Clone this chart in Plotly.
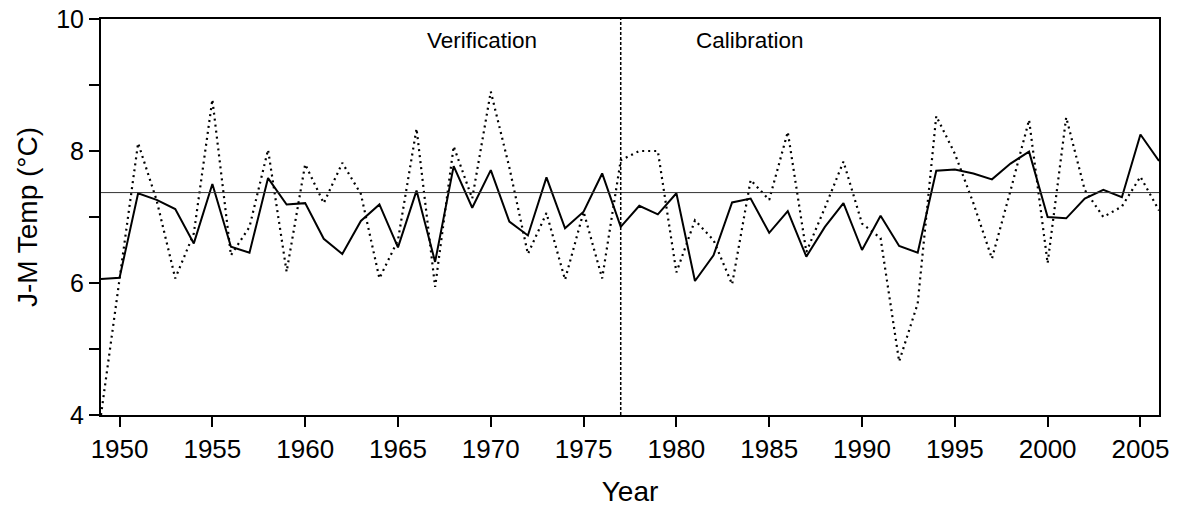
import plotly.graph_objects as go

# Jan-May temperature, 1949-2006
years = list(range(1949, 2007))

observed = [
    6.06, 6.08, 7.36, 7.26, 7.12, 6.60, 7.50, 6.55, 6.46, 7.59,
    7.19, 7.21, 6.67, 6.44, 6.94, 7.19, 6.54, 7.40, 6.32, 7.77,
    7.14, 7.71, 6.93, 6.72, 7.60, 6.83, 7.08, 7.66, 6.85, 7.17,
    7.04, 7.36, 6.03, 6.42, 7.22, 7.28, 6.76, 7.09, 6.40, 6.85,
    7.21, 6.50, 7.02, 6.56, 6.46, 7.70, 7.72, 7.66, 7.57, 7.81,
    7.99, 7.00, 6.98, 7.28, 7.41, 7.30, 8.25, 7.85,
]

reconstructed = [
    4.00, 6.05, 8.12, 7.25, 6.07, 6.75, 8.78, 6.42, 6.85, 8.02,
    6.17, 7.80, 7.21, 7.82, 7.35, 6.07, 6.65, 8.34, 5.94, 8.07,
    7.28, 8.90, 7.75, 6.44, 7.06, 6.05, 7.08, 6.07, 7.86, 8.00,
    8.00, 6.16, 6.95, 6.65, 5.98, 7.56, 7.26, 8.29, 6.47, 7.14,
    7.84, 6.90, 6.68, 4.81, 5.69, 8.53, 7.96, 7.21, 6.37, 7.40,
    8.47, 6.30, 8.51, 7.41, 7.00, 7.16, 7.61, 7.10,
]

mean_temp = 7.37
split_year = 1977

x_ticks = list(range(1950, 2006, 5))
y_ticks = [4, 5, 6, 7, 8, 9, 10]
y_labels = ["4", "", "6", "", "8", "", "10"]

FONT = "Liberation Sans, Arial, sans-serif"

fig = go.Figure()

fig.add_trace(go.Scatter(
    x=years, y=reconstructed, mode="lines",
    line=dict(color="black", width=2.2, dash="2px,4px"),
    showlegend=False,
))
fig.add_trace(go.Scatter(
    x=years, y=observed, mode="lines",
    line=dict(color="black", width=2),
    showlegend=False,
))

# long-term mean
fig.add_shape(type="line", xref="paper", x0=0, x1=1, yref="y",
              y0=mean_temp, y1=mean_temp,
              line=dict(color="#333333", width=1))
# split between verification and calibration periods
fig.add_shape(type="line", xref="x", x0=split_year, x1=split_year,
              yref="paper", y0=0, y1=1,
              line=dict(color="black", width=1.5, dash="3px,2px"))

fig.add_annotation(x=1969.55, y=9.68, xref="x", yref="y", text="Verification",
                   showarrow=False, font=dict(family=FONT, size=22.5, color="black"))
fig.add_annotation(x=1983.95, y=9.68, xref="x", yref="y", text="Calibration",
                   showarrow=False, font=dict(family=FONT, size=22.5, color="black"))

fig.update_layout(
    width=1182, height=513,
    margin=dict(l=101, r=23, t=19, b=98),
    paper_bgcolor="white", plot_bgcolor="white",
    font=dict(family=FONT, color="black"),
    xaxis=dict(
        range=[1949, 2006], tickvals=x_ticks, automargin=False,
        ticks="outside", ticklen=10, tickwidth=2, tickcolor="black",
        showline=True, linewidth=2, linecolor="black", mirror=True,
        showgrid=False, zeroline=False,
        tickfont=dict(family=FONT, size=26),
        title=dict(text="Year", font=dict(family=FONT, size=28), standoff=18),
    ),
    yaxis=dict(
        range=[4, 10], tickvals=y_ticks, ticktext=y_labels, automargin=False,
        ticks="outside", ticklen=10, tickwidth=2, tickcolor="black",
        showline=True, linewidth=2, linecolor="black", mirror=True,
        showgrid=False, zeroline=False,
        tickfont=dict(family=FONT, size=25),
        title=dict(text="J-M Temp (°C)", font=dict(family=FONT, size=28), standoff=10),
    ),
)

fig.write_html("out.html")
